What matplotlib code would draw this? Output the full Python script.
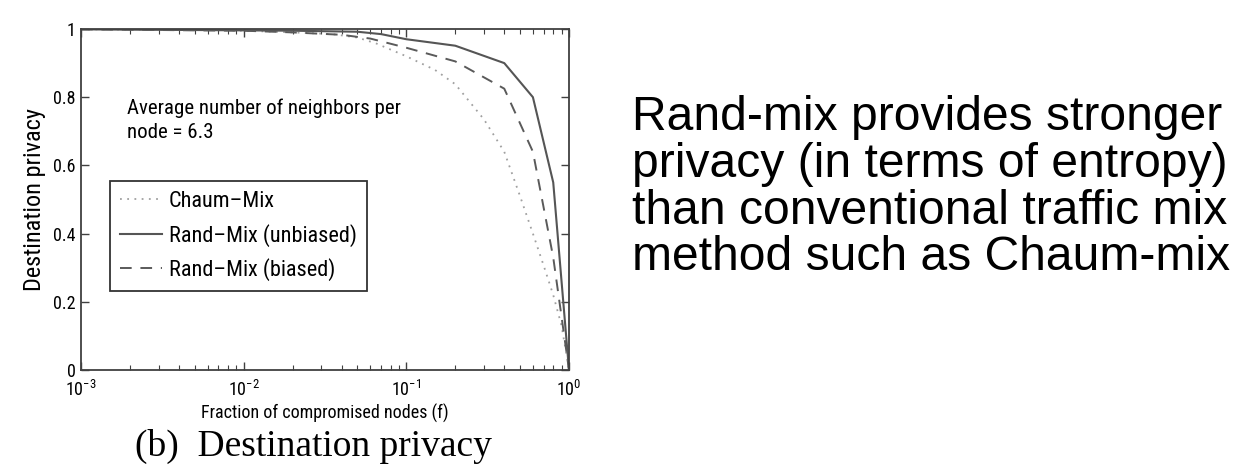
import numpy as np
import matplotlib
matplotlib.use("Agg")
import matplotlib.pyplot as plt
from matplotlib import font_manager
from matplotlib.ticker import LogLocator, FixedLocator

# Fraction of compromised nodes (f) and the resulting destination privacy
f_chaum = [0.001, 0.005, 0.01, 0.02, 0.035, 0.05, 0.065, 0.1, 0.15, 0.2,
           0.3, 0.4, 0.5, 0.6, 0.7, 0.8, 0.9, 1.0]
p_chaum = [0.999, 0.998, 0.995, 0.99, 0.985, 0.975, 0.958, 0.92, 0.88, 0.838,
           0.735, 0.64, 0.51, 0.40, 0.305, 0.22, 0.13, 0.0]

f_unbiased = [0.001, 0.002, 0.005, 0.01, 0.02, 0.05, 0.07, 0.1, 0.2, 0.4,
              0.6, 0.8, 1.0]
p_unbiased = [0.999, 0.998, 0.997, 0.996, 0.995, 0.992, 0.985, 0.97, 0.951,
              0.90, 0.80, 0.55, 0.0]

f_biased = [0.001, 0.002, 0.005, 0.01, 0.02, 0.04, 0.06, 0.1, 0.2, 0.4,
            0.6, 0.8, 1.0]
p_biased = [0.999, 0.998, 0.996, 0.995, 0.99, 0.983, 0.972, 0.945, 0.905,
            0.825, 0.64, 0.33, 0.0]

labels = ["Chaum\u2013Mix", "Rand\u2013Mix (unbiased)", "Rand\u2013Mix (biased)"]
yticks = [0, 0.2, 0.4, 0.6, 0.8, 1]
yticklabels = ["0", "0.2", "0.4", "0.6", "0.8", "1"]

note = "Average number of neighbors per\nnode = 6.3"
caption = "(b)  Destination privacy"
summary = ("Rand-mix provides stronger\nprivacy (in terms of entropy)\n"
           "than conventional traffic mix\nmethod such as Chaum-mix")

# narrow helvetica-ish face for the plot, plain one if it's missing
names = {f.name for f in font_manager.fontManager.ttflist}
if "Roboto Condensed" in names:
    fig_font, k = "Roboto Condensed", 1.0
else:
    fig_font, k = "Liberation Sans", 0.85

plt.rcParams["font.family"] = fig_font
plt.rcParams["mathtext.fontset"] = "custom"
plt.rcParams["mathtext.rm"] = fig_font
plt.rcParams["mathtext.it"] = fig_font

W, H = 1241, 466
fig = plt.figure(figsize=(W / 100, H / 100), dpi=100)
# axes box in pixels: x 81..569, y 29..370
ax = fig.add_axes([81 / W, 1 - 370 / H, 488 / W, 341 / H])

ax.plot(f_chaum, p_chaum, color="#a0a0a0", lw=1.3, ls=(0, (1, 3)), label=labels[0])
ax.plot(f_unbiased, p_unbiased, color="#555555", lw=1.5, ls="-", label=labels[1])
ax.plot(f_biased, p_biased, color="#5a5a5a", lw=1.4, ls=(0, (6, 4.5)), label=labels[2])

ax.set_xscale("log")
ax.set_xlim(1e-3, 1)
ax.set_ylim(0, 1)
ax.yaxis.set_major_locator(FixedLocator(yticks))
ax.set_yticklabels(yticklabels)
ax.xaxis.set_major_locator(LogLocator(base=10, numticks=10))
ax.xaxis.set_minor_locator(LogLocator(base=10, subs=np.arange(2, 10), numticks=10))

ax.tick_params(which="both", direction="in", top=True, right=True,
               color="#404040", labelsize=13 * k)
ax.tick_params(axis="y", pad=4)
ax.tick_params(axis="x", pad=7)
ax.tick_params(which="major", length=6, width=1)
ax.tick_params(which="minor", length=3.5, width=0.8)
for s in ax.spines.values():
    s.set_color("#404040")
    s.set_linewidth(1.3)

ax.set_xlabel("Fraction of compromised nodes (f)", fontsize=13 * k, labelpad=3)
ax.set_ylabel("Destination privacy", fontsize=17.5 * k, labelpad=5)

fig.text(127 / W, 1 - 98 / H, note, fontsize=15 * k, ha="left", va="top",
         linespacing=1.35)

leg = ax.legend(loc="upper left", bbox_to_anchor=(110 / W, 1 - 181 / H),
                bbox_transform=fig.transFigure, fontsize=16 * k,
                fancybox=False, framealpha=1, edgecolor="#333333",
                borderaxespad=0, handlelength=1.9, handletextpad=0.3,
                borderpad=0.45, labelspacing=0.52)
leg.get_frame().set_linewidth(1.3)

fig.text(313 / W, 1 - 446 / H, caption, family="Liberation Serif",
         fontsize=27, ha="center", va="center")

fig.text(632 / W, 1 - 95 / H, summary, family="Liberation Sans",
         fontsize=34.6, ha="left", va="top", linespacing=1.05)

fig.savefig("out.png", dpi=100)
